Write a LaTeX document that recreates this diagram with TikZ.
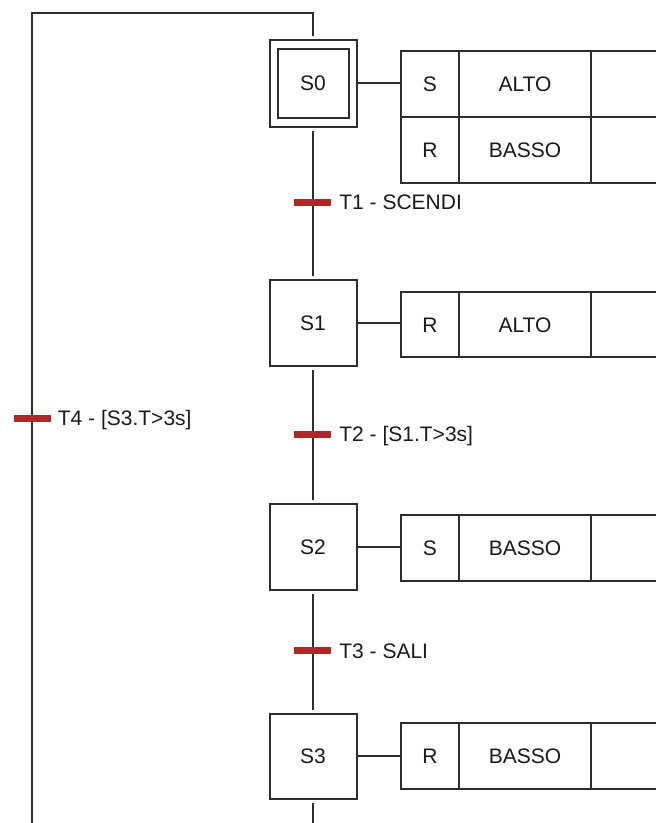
\documentclass[tikz,border=0pt]{standalone}
\usepackage{fontspec}
\setmainfont{Liberation Sans}
\usetikzlibrary{positioning}
\definecolor{ln}{HTML}{2E2E2E}
\definecolor{tred}{HTML}{A82A2A}
\definecolor{txt}{HTML}{1A1A1A}
\begin{document}
\begin{tikzpicture}[x=1pt,y=-1pt,
  every node/.style={font=\fontsize{21}{23}\selectfont, text=txt, inner sep=0pt, text height=15pt, text depth=0pt},
  stepbox/.style={draw=ln, line width=2pt, minimum width=87pt, minimum height=86pt},
  link/.style={draw=ln, line width=2pt},
  gap/.style={shorten <=3pt, shorten >=3pt},
  tbar/.style={fill=tred, minimum width=37pt, minimum height=7pt, text height=0pt, text depth=0pt},
  tlabel/.style={anchor=west},
  cellbase/.style={draw=ln, line width=2pt, outer sep=0pt, minimum height=66pt},
  qcell/.style={cellbase, minimum width=58pt},
  vcell/.style={cellbase, minimum width=132pt},
  ecell/.style={cellbase, minimum width=100pt}
]
\useasboundingbox (0,0) rectangle (656,823);
\fill[white] (0,0) rectangle (656,823);

% steps
\node[stepbox, minimum height=87pt] (s0) at (313,83) {};
\node[draw=ln, line width=2pt, minimum width=71pt, minimum height=69pt] (s0i) at (313,83) {S0};
\node[stepbox] (s1) at (313,323) {S1};
\node[stepbox] (s2) at (313,547) {S2};
\node[stepbox, minimum height=85pt] (s3) at (313,756) {S3};

% action tables
\node[qcell, anchor=west] (a0q) at (401,84) {S};
\node[vcell, right=0pt of a0q] (a0v) {ALTO};
\node[ecell, right=0pt of a0v] (a0e) {};
\node[qcell, below=0pt of a0q] (a0r) {R};
\node[vcell, right=0pt of a0r] (a0w) {BASSO};
\node[ecell, right=0pt of a0w] (a0f) {};

\node[qcell, anchor=west, minimum height=65pt] (a1q) at (401,324.5) {R};
\node[vcell, right=0pt of a1q, minimum height=65pt] (a1v) {ALTO};
\node[ecell, right=0pt of a1v, minimum height=65pt] (a1e) {};

\node[qcell, anchor=west] (a2q) at (401,548) {S};
\node[vcell, right=0pt of a2q] (a2v) {BASSO};
\node[ecell, right=0pt of a2v] (a2e) {};

\node[qcell, anchor=west] (a3q) at (401,756) {R};
\node[vcell, right=0pt of a3q] (a3v) {BASSO};
\node[ecell, right=0pt of a3v] (a3e) {};

% step to action connectors
\draw[link] (s0.east) -- (s0.east -| a0q.west);
\draw[link] (s1.east) -- (s1.east -| a1q.west);
\draw[link] (s2.east) -- (s2.east -| a2q.west);
\draw[link] (s3.east) -- (s3.east -| a3q.west);

% vertical links
\draw[link, gap] (s0) -- (s1);
\draw[link, gap] (s1) -- (s2);
\draw[link, gap] (s2) -- (s3);
\coordinate (b3) at (313,830);
\coordinate (bl) at (32,830);
\coordinate (tl) at (32,13);
\coordinate (tr) at (313,13);
\draw[link, shorten <=3pt] (s3) -- (b3);
\draw[link, shorten >=3pt] (bl) -- (tl) -- (tr) -- (s0.north);

% transitions
\node[tbar] (t1) at (312.5,202) {};
\node[tlabel, right=8pt of t1] (t1l) {T1 - SCENDI};
\node[tbar] (t2) at (312.5,434) {};
\node[tlabel, right=8pt of t2] (t2l) {T2 - [S1.T>3s]};
\node[tbar] (t3) at (312.5,650.5) {};
\node[tlabel, right=8pt of t3] (t3l) {T3 - SALI};
\node[tbar] (t4) at (32,418) {};
\node[tlabel, right=7pt of t4] (t4l) {T4 - [S3.T>3s]};
\end{tikzpicture}
\end{document}
